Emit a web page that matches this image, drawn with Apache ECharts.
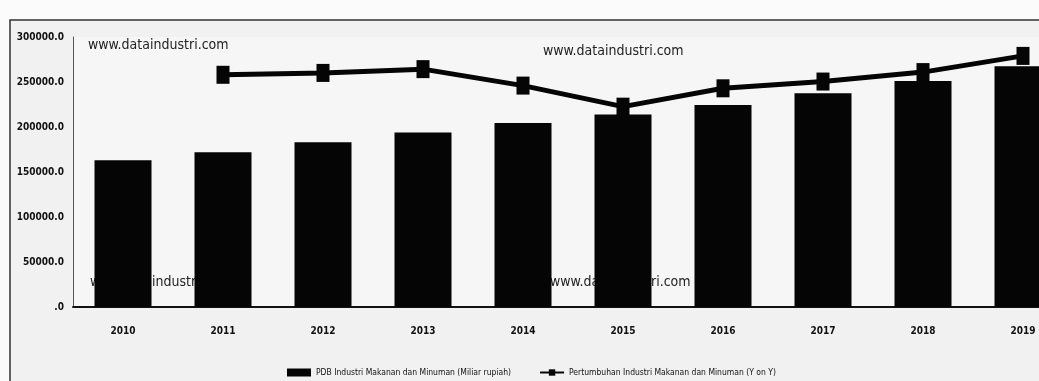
<!DOCTYPE html>
<html>
<head>
<meta charset="utf-8">
<script src="https://cdn.jsdelivr.net/npm/echarts@6/dist/echarts.min.js"></script>
<style>
  html, body { margin: 0; padding: 0; background: #fbfbfb; }
  #chart { width: 1039px; height: 381px; }
</style>
</head>
<body>
<div id="chart"></div>
<script>
// data
const years = ["2010", "2011", "2012", "2013", "2014", "2015", "2016", "2017", "2018", "2019"];
const pdb = [163000, 172000, 183000, 194000, 204500, 214000, 224500, 237500, 251000, 267500];
// growth (Y on Y), drawn on a hidden right axis
const growth = [null, 8.6, 8.67, 8.81, 8.2, 7.42, 8.1, 8.35, 8.7, 9.3];
const yTicks = [0, 50000, 100000, 150000, 200000, 250000, 300000];

const FONT = "'DejaVu Sans Condensed', 'DejaVu Sans', sans-serif";
const chart = echarts.init(document.getElementById("chart"));

const watermark = (x, y, z) => ({
  type: "text",
  left: x,
  top: y,
  z: z,
  style: { text: "www.dataindustri.com", font: "14px " + FONT, fill: "#222" }
});

const option = {
  backgroundColor: "#fbfbfb",
  animation: false,
  textStyle: { fontFamily: FONT },
  graphic: [
    {
      type: "rect",
      z: -10,
      shape: { x: 10, y: 20, width: 1100, height: 400 },
      style: { fill: "#f1f1f1", stroke: "#333", lineWidth: 1.5 }
    },
    watermark(88, 38, 100),
    watermark(543, 44, 100),
    watermark(90, 275, 0),
    watermark(550, 275, 0)
  ],
  grid: {
    left: 73,
    top: 37,
    width: 1000,
    height: 270,
    outerBoundsMode: "none",
    show: true,
    backgroundColor: "#f6f6f6",
    borderWidth: 0
  },
  legend: {
    left: 282,
    top: 363,
    itemGap: 28,
    itemWidth: 24,
    itemHeight: 8,
    textStyle: { fontSize: 8.5, fontFamily: FONT, color: "#111" },
    data: [
      { name: "PDB Industri Makanan dan Minuman (Miliar rupiah)", icon: "rect" },
      { name: "Pertumbuhan Industri Makanan dan Minuman (Y on Y)" }
    ]
  },
  xAxis: {
    type: "category",
    data: years,
    axisLine: { lineStyle: { color: "#111", width: 2 } },
    axisTick: { show: false },
    axisLabel: { margin: 19, fontSize: 10, fontWeight: "bold", color: "#111", fontFamily: FONT }
  },
  yAxis: [
    {
      type: "value",
      min: yTicks[0],
      max: yTicks[yTicks.length - 1],
      interval: yTicks[1] - yTicks[0],
      axisLine: { show: true, lineStyle: { color: "#555", width: 1 } },
      axisTick: { show: false },
      splitLine: { show: false },
      axisLabel: {
        margin: 9,
        fontSize: 10,
        fontWeight: "bold",
        color: "#111",
        fontFamily: FONT,
        formatter: (v) => (v === 0 ? ".0" : v.toFixed(1))
      }
    },
    { type: "value", min: 0, max: 10, show: false, splitLine: { show: false } }
  ],
  series: [
    {
      name: "PDB Industri Makanan dan Minuman (Miliar rupiah)",
      type: "bar",
      data: pdb,
      barWidth: "57%",
      itemStyle: { color: "#050505" },
      z: 2
    },
    {
      name: "Pertumbuhan Industri Makanan dan Minuman (Y on Y)",
      type: "line",
      yAxisIndex: 1,
      data: growth,
      symbol: "rect",
      symbolSize: [13, 18],
      showAllSymbol: true,
      lineStyle: { color: "#050505", width: 5 },
      itemStyle: { color: "#050505" },
      z: 5
    }
  ]
};

chart.setOption(option);
</script>
</body>
</html>
